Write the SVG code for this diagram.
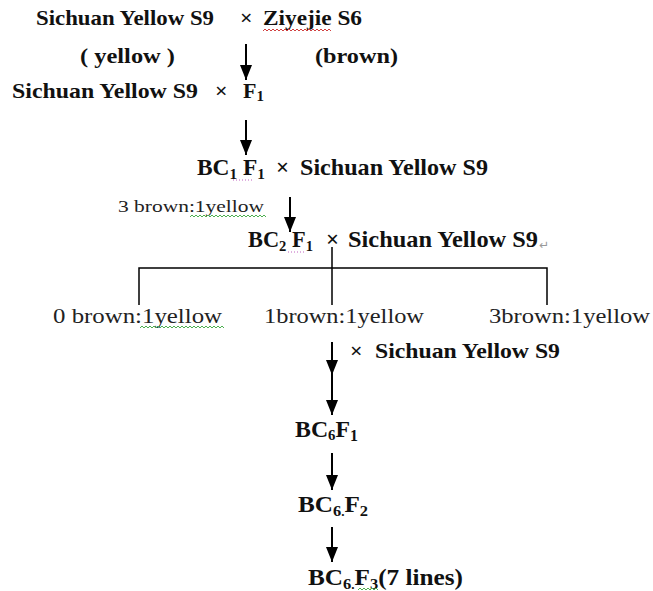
<svg xmlns="http://www.w3.org/2000/svg" width="653" height="591" viewBox="0 0 653 591">
<style>
.b{font-family:"Liberation Serif","Times New Roman",serif;font-weight:bold;fill:#111}
.n{font-family:"Liberation Serif","Times New Roman",serif;fill:#222}
.ln{stroke:#000;stroke-width:1.5;fill:none}
.ar{stroke:#000;stroke-width:2;fill:none;marker-end:url(#ah)}
.sqr{fill:none;stroke:#d04040;stroke-width:1}
.sqg{fill:none;stroke:#4caf50;stroke-width:1}
.dot{fill:none;stroke:#c060c0;stroke-width:1;stroke-dasharray:1 2}
</style>
<defs>
<marker id="ah" viewBox="0 0 15 12" refX="15" refY="6" markerWidth="15" markerHeight="12" markerUnits="userSpaceOnUse" orient="auto">
<path d="M0,0 L15,6 L0,12 z" fill="#000"/>
</marker>
</defs>
<rect width="653" height="591" fill="#fff"/>

<g id="cross1">
<text class="b" x="36" y="25" font-size="22" textLength="178" lengthAdjust="spacingAndGlyphs">Sichuan Yellow S9</text>
<text class="b" x="240" y="25" font-size="22">×</text>
<text class="b" x="263" y="25" font-size="22" textLength="99" lengthAdjust="spacingAndGlyphs">Ziyejie S6</text>
<path class="sqr" d="M263,31 l2,-2 2,2 2,-2 2,2 2,-2 2,2 2,-2 2,2 2,-2 2,2 2,-2 2,2 2,-2 2,2 2,-2 2,2 2,-2 2,2 2,-2 2,2 2,-2 2,2 2,-2 2,2 2,-2 2,2 2,-2 2,2 2,-2 2,2 2,-2 2,2 2,-2 2,2"/>
</g>
<g id="phenotypes">
<text class="b" x="80" y="63" font-size="22" textLength="95" lengthAdjust="spacingAndGlyphs">( yellow )</text>
<text class="b" x="315" y="63" font-size="22" textLength="83" lengthAdjust="spacingAndGlyphs">(brown)</text>
</g>
<g id="cross2">
<text class="b" x="12" y="98" font-size="22" textLength="186" lengthAdjust="spacingAndGlyphs">Sichuan Yellow S9</text>
<text class="b" x="215" y="98" font-size="22">×</text>
<text class="b" x="243" y="98" font-size="22">F<tspan font-size="15" dy="3">1</tspan></text>
</g>
<g id="bc1">
<text class="b" x="197" y="175" font-size="23" textLength="68" lengthAdjust="spacingAndGlyphs">BC<tspan font-size="15" dy="4">1</tspan><tspan dy="-4"> F</tspan><tspan font-size="15" dy="4">1</tspan></text>
<text class="b" x="276" y="175" font-size="23">×</text>
<text class="b" x="300" y="175" font-size="23" textLength="188" lengthAdjust="spacingAndGlyphs">Sichuan Yellow S9</text>
<path class="dot" d="M233,180 H252"/>
</g>
<g id="ratio1">
<text class="n" x="118" y="212" font-size="17" textLength="146" lengthAdjust="spacingAndGlyphs">3 brown:1yellow</text>
<path class="sqg" d="M190,217 l2,-2 2,2 2,-2 2,2 2,-2 2,2 2,-2 2,2 2,-2 2,2 2,-2 2,2 2,-2 2,2 2,-2 2,2 2,-2 2,2 2,-2 2,2 2,-2 2,2 2,-2 2,2 2,-2 2,2 2,-2 2,2 2,-2 2,2 2,-2 2,2 2,-2 2,2 2,-2 2,2 2,-2 2,2"/>
</g>
<g id="bc2">
<text class="b" x="248" y="247" font-size="23" textLength="65" lengthAdjust="spacingAndGlyphs">BC<tspan font-size="15" dy="4">2</tspan><tspan dy="-4"> F</tspan><tspan font-size="15" dy="4">1</tspan></text>
<text class="b" x="326" y="247" font-size="23">×</text>
<text class="b" x="348" y="247" font-size="23" textLength="190" lengthAdjust="spacingAndGlyphs">Sichuan Yellow S9</text>
<text x="539" y="249" font-size="12" fill="#999" font-family="'DejaVu Sans',sans-serif">↵</text>
<path class="dot" d="M288,252 H304"/>
</g>
<g id="ratios">
<text class="n" x="53" y="323" font-size="20" textLength="169" lengthAdjust="spacingAndGlyphs">0 brown:1yellow</text>
<path class="sqg" d="M140,328 l2,-2 2,2 2,-2 2,2 2,-2 2,2 2,-2 2,2 2,-2 2,2 2,-2 2,2 2,-2 2,2 2,-2 2,2 2,-2 2,2 2,-2 2,2 2,-2 2,2 2,-2 2,2 2,-2 2,2 2,-2 2,2 2,-2 2,2 2,-2 2,2 2,-2 2,2 2,-2 2,2 2,-2 2,2 2,-2 2,2 2,-2 2,2"/>
<text class="n" x="264" y="323" font-size="20" textLength="160" lengthAdjust="spacingAndGlyphs">1brown:1yellow</text>
<text class="n" x="489" y="323" font-size="20" textLength="161" lengthAdjust="spacingAndGlyphs">3brown:1yellow</text>
</g>
<g id="cross3">
<text class="b" x="350" y="358" font-size="22">×</text>
<text class="b" x="375" y="358" font-size="22" textLength="185" lengthAdjust="spacingAndGlyphs">Sichuan Yellow S9</text>
</g>
<g id="bc6f1">
<text class="b" x="295" y="437" font-size="24" textLength="63" lengthAdjust="spacingAndGlyphs">BC<tspan font-size="15" dy="3">6</tspan><tspan dy="-3">F</tspan><tspan font-size="16" dy="4">1</tspan></text>
</g>
<g id="bc6f2">
<text class="b" x="298" y="512" font-size="23" textLength="70" lengthAdjust="spacingAndGlyphs">BC<tspan font-size="15" dy="4">6</tspan><tspan font-size="12" dy="0">.</tspan><tspan font-size="23" dy="-4">F</tspan><tspan font-size="15" dy="4">2</tspan></text>
</g>
<g id="bc6f3">
<text class="b" x="308" y="585" font-size="23" textLength="155" lengthAdjust="spacingAndGlyphs">BC<tspan font-size="15" dy="4">6</tspan><tspan font-size="12" dy="0">.</tspan><tspan font-size="23" dy="-4">F</tspan><tspan font-size="15" dy="4">3</tspan><tspan dy="-4">(7 lines)</tspan></text>
<path class="sqg" d="M358,590 l2,-2 2,2 2,-2 2,2 2,-2 2,2 2,-2 2,2 2,-2 2,2"/>
</g>

<g id="connectors">
<line class="ar" x1="246" y1="44" x2="246" y2="80"/>
<line class="ar" x1="246" y1="120" x2="246" y2="155"/>
<line class="ar" x1="290" y1="197" x2="290" y2="232"/>
<path class="ln" d="M332,247 V305 M139,305 V268 H547 V305"/>
<line class="ar" x1="332" y1="342" x2="332" y2="375"/>
<line class="ar" x1="332" y1="375" x2="332" y2="415"/>
<line class="ar" x1="332" y1="453" x2="332" y2="490"/>
<line class="ar" x1="332" y1="527" x2="332" y2="562"/>
</g>
</svg>
